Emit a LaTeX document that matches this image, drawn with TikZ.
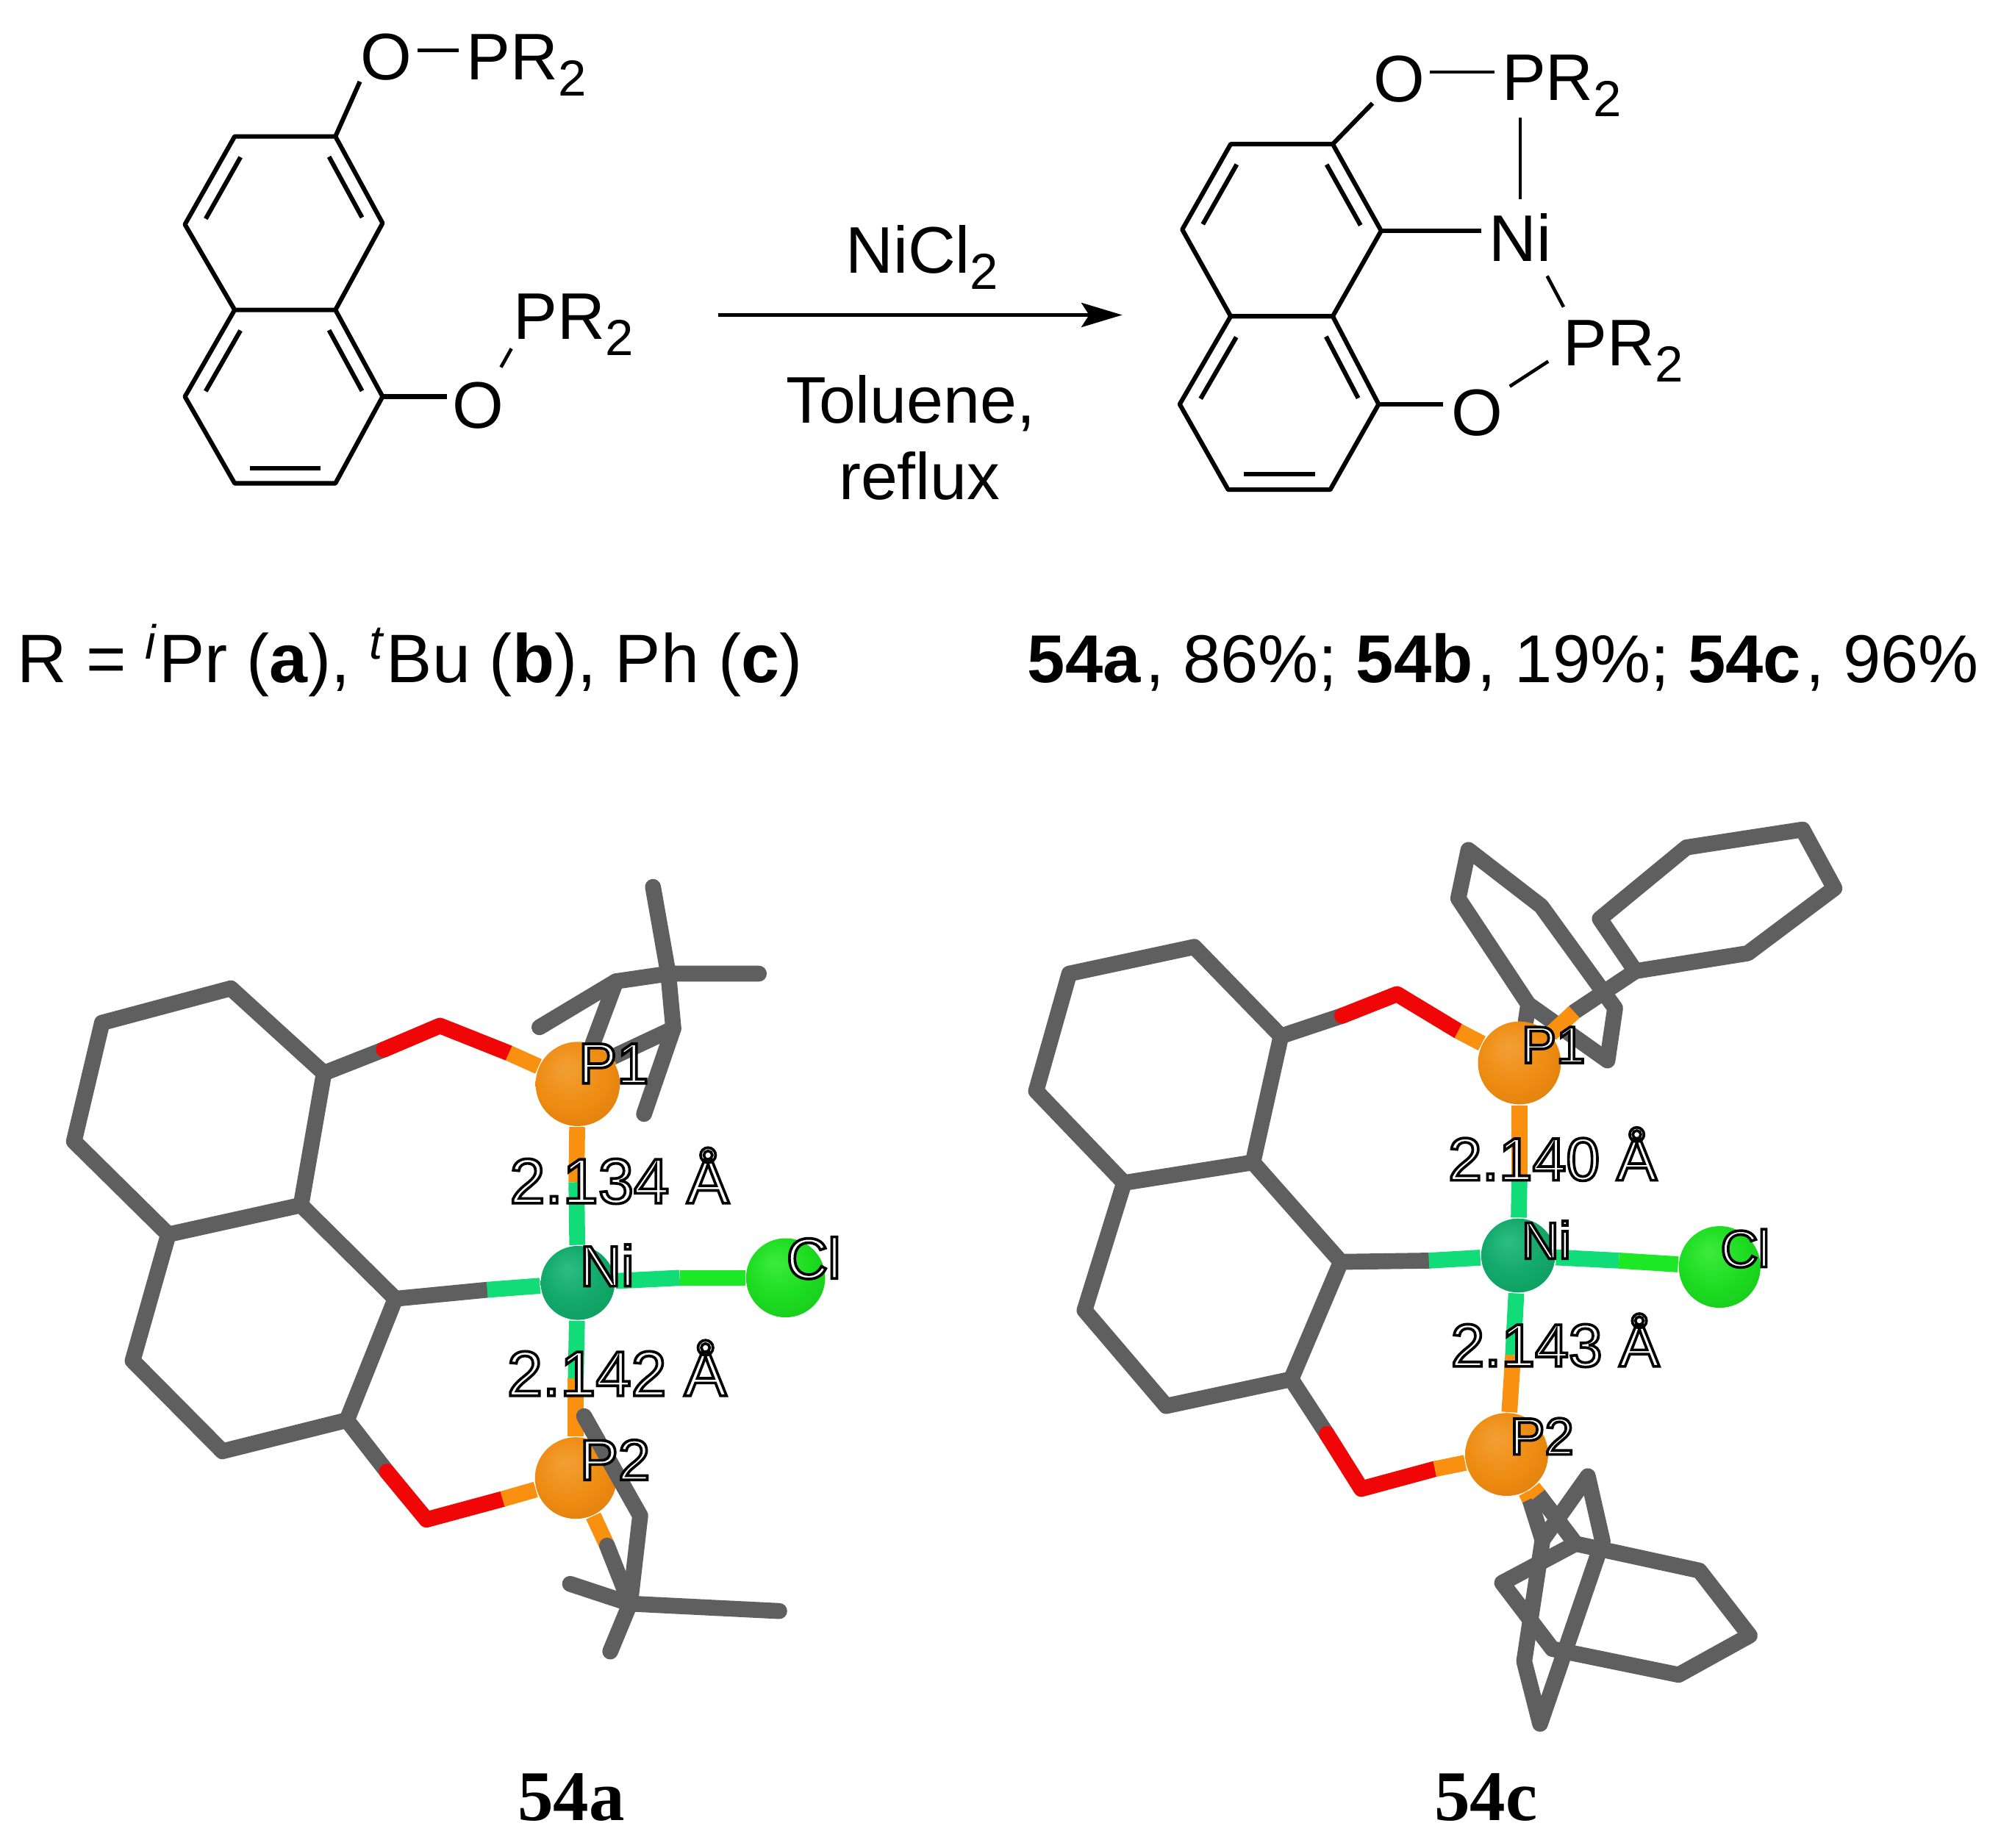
\documentclass[tikz,border=0pt]{standalone}
\usepackage{fontspec}
\setmainfont{Liberation Sans}
\newfontfamily\captionserif{Liberation Serif}
\usetikzlibrary{positioning,backgrounds,calc,arrows.meta}

\begin{document}
\begin{tikzpicture}[x=0.01cm,y=-0.01cm]
       \definecolor{stickgrey}{HTML}{5F5F5F}
       \definecolor{stickred}{HTML}{F00606}
       \definecolor{stickorange}{HTML}{F9900F}
       \definecolor{stickgreen}{HTML}{12DC78}
       \definecolor{stickbright}{HTML}{1CE826}
       \pgfdeclareradialshading{orangeshade}{\pgfpoint{-7bp}{10bp}}{rgb(0bp)=(.953,.624,.208); rgb(20bp)=(.933,.549,.071); rgb(38bp)=(.863,.486,.039); rgb(47bp)=(.71,.416,.055); rgb(50bp)=(.541,.314,.047)}
       \pgfdeclareradialshading{nickelshade}{\pgfpoint{-7bp}{10bp}}{rgb(0bp)=(.173,.741,.51); rgb(20bp)=(.071,.659,.416); rgb(38bp)=(.055,.604,.369); rgb(47bp)=(.047,.486,.298); rgb(50bp)=(.039,.416,.251)}
       \pgfdeclareradialshading{chlorineshade}{\pgfpoint{-7bp}{10bp}}{rgb(0bp)=(.235,.922,.235); rgb(20bp)=(.11,.863,.125); rgb(38bp)=(.094,.769,.11); rgb(47bp)=(.071,.604,.078); rgb(50bp)=(.055,.502,.063)}
       \newcommand{\lowertwo}{\raisebox{-3.6pt}{\fontsize{11.3}{11.3}\selectfont 2}}
       \newcommand{\outlined}[1]{\textcolor{white}{\special{pdf:code 0 0 0 RG 2 Tr 0.6 w}#1\special{pdf:code 0 Tr}}}
       \newcommand{\innerbond}[2]{\draw [bond] ($(#1)!0.15!(#2)!0.12cm!-90:(#2)$) -- ($(#2)!0.15!(#1)!0.12cm!90:(#1)$);}
       \tikzstyle{bond}     = [line width=1pt, line join=round]
       \tikzstyle{thinbond} = [line width=0.75pt]
       \tikzstyle{atomtext} = [inner sep=0pt, font=\fontsize{14.7}{17}\selectfont]
       \tikzstyle{grouptext}= [atomtext, anchor=base west]
       \tikzstyle{legend}   = [inner sep=0pt, anchor=base west, font=\fontsize{15.1}{18}\selectfont]
       \tikzstyle{stick}    = [line width=3.55pt, line cap=round, line join=round, color=stickgrey]
       \tikzstyle{redstick} = [stick, color=stickred]
       \tikzstyle{orastick} = [stick, color=stickorange, line cap=butt]
       \tikzstyle{grnstick} = [stick, color=stickgreen, line cap=butt]
       \tikzstyle{brtstick} = [stick, color=stickbright, line cap=butt]
       \tikzstyle{atomball} = [circle, inner sep=0pt]
       \tikzstyle{atomlabel}= [anchor=base west, inner sep=0pt, font=\fontsize{12.8}{15}\selectfont]
       \tikzstyle{distlabel}= [anchor=base west, inner sep=0pt, font=\fontsize{14.2}{17}\selectfont]
       \tikzstyle{codename} = [anchor=base, inner sep=0pt, font=\captionserif\bfseries\fontsize{15.9}{19}\selectfont]

       \useasboundingbox (0,0) rectangle (1569,1449);

       % starting material
       \coordinate (la) at (263,107);
       \coordinate (lb) at (184,107);
       \coordinate (lc) at (145,176);
       \coordinate (ld) at (184,243);
       \coordinate (le) at (263,243);
       \coordinate (lf) at (300,175);
       \coordinate (lg) at (145,311);
       \coordinate (lh) at (184,379);
       \coordinate (li) at (263,379);
       \coordinate (lj) at (300,311);
       \node [atomtext] (lOa) at (303,45) {O};
       \node [atomtext] (lOb) at (375,318) {O};
       \node [grouptext] (lPa) at (365,62.6) {PR\lowertwo};
       \node [grouptext] (lPb) at (402,266) {PR\lowertwo};
       \draw [bond] (la) -- (lb) -- (lc) -- (ld) -- (le) -- (lf) -- cycle;
       \draw [bond] (ld) -- (lg) -- (lh) -- (li) -- (lj) -- (le);
       \innerbond{lc}{lb}
       \innerbond{la}{lf}
       \innerbond{le}{lj}
       \innerbond{li}{lh}
       \innerbond{lg}{ld}
       \draw [bond] (la) -- (lOa.south west);
       \draw [thinbond, shorten <=1pt, shorten >=1.5pt] (lOa.15) -- (lOa.15 -| lPa.west);
       \draw [bond, shorten >=1.1pt] (lj) -- (lj -| lOb.west);
       \draw [thinbond] ([shift={(-3,-11)}]lOb.north east) -- ([shift={(-1,-6)}]lPb.south west);

       % reaction arrow
       \coordinate (arrowtail) at (563,247);
       \coordinate (arrowtip) at (880,247);
       \draw [line width=0.9pt, -{Stealth[length=0.32cm, width=0.19cm, inset=0.06cm]}] (arrowtail) -- (arrowtip);
       \node [atomtext, anchor=base] (metal) at (723,214) {NiCl\lowertwo};
       \node [atomtext, anchor=base] (solvent) at (714,331.6) {Toluene,};
       \node [atomtext, anchor=base] (reflux) at (721,391.5) {reflux};

       % pincer product
       \coordinate (ra) at (1045,113);
       \coordinate (rb) at (965,113);
       \coordinate (rc) at (927,180);
       \coordinate (rd) at (965,248);
       \coordinate (re) at (1045,248);
       \coordinate (rf) at (1083,181);
       \coordinate (rg) at (925,317);
       \coordinate (rh) at (963,384);
       \coordinate (ri) at (1043,384);
       \coordinate (rj) at (1081,317);
       \node [atomtext] (rOa) at (1097,62) {O};
       \node [atomtext] (rOb) at (1158,324) {O};
       \node [atomtext] (rNi) at (1192,186) {Ni};
       \node [grouptext] (rPa) at (1177,78.7) {PR\lowertwo};
       \node [grouptext] (rPb) at (1225,287) {PR\lowertwo};
       \draw [bond] (ra) -- (rb) -- (rc) -- (rd) -- (re) -- (rf) -- cycle;
       \draw [bond] (rd) -- (rg) -- (rh) -- (ri) -- (rj) -- (re);
       \innerbond{rc}{rb}
       \innerbond{ra}{rf}
       \innerbond{re}{rj}
       \innerbond{ri}{rh}
       \innerbond{rg}{rd}
       \draw [bond] (ra) -- (rOa.south west);
       \draw [thinbond, shorten <=1pt, shorten >=1.4pt] (rOa.15) -- (rOa.15 -| rPa.west);
       \draw [thinbond, shorten >=3pt] (rNi.north |- rPa.south) -- (rNi.north);
       \draw [bond, shorten >=1.6pt] (rf) -- (rf -| rNi.west);
       \draw [thinbond] ([shift={(-4,11)}]rNi.south east) -- ([shift={(1,-10)}]rPb.north west);
       \draw [bond, shorten >=1.7pt] (rj) -- (rj -| rOb.west);
       \draw [thinbond] ([shift={(5,-2)}]rOb.north east) -- ([shift={(-11,-17)}]rPb.south west);

       % legends
       \node [legend, font=\fontsize{15.3}{18}\selectfont] (rlegend) at (13,535) {R = \textsuperscript{\textit{i}}Pr (\textbf{a}), \textsuperscript{\textit{t}}Bu (\textbf{b}), Ph (\textbf{c})};
       \node [legend] (yields) at (805,535) {\textbf{54a}\kern1pt, 86\%; \textbf{54b}\kern1pt, 19\%; \textbf{54c}\kern1pt, 96\%};

       % crystal structure 54a
       \node [atomball, shading=orangeshade, minimum size=0.66cm] (aPa) at (453,850) {};
       \node [atomball, shading=orangeshade, minimum size=0.64cm] (aPb) at (451.5,1159) {};
       \node [atomball, shading=nickelshade, minimum size=0.58cm] (aNi) at (453,1006) {};
       \node [atomball, shading=chlorineshade, minimum size=0.62cm] (aCl) at (616,1002) {};
       \coordinate (aa) at (254,841.5);
       \coordinate (ab) at (181,775);
       \coordinate (ac) at (80,802);
       \coordinate (ad) at (58,895);
       \coordinate (ae) at (132,968);
       \coordinate (af) at (236,945);
       \coordinate (ag) at (104,1067);
       \coordinate (ah) at (174.4,1138);
       \coordinate (ai) at (272,1113.6);
       \coordinate (aj) at (310,1018.4);
       \coordinate (aOa) at (345,804.3);
       \coordinate (aOb) at (334.4,1191.6);
       \coordinate (aCa) at (483,769.5);
       \coordinate (aCb) at (524,763.5);
       \coordinate (aCc) at (528,806.5);
       \coordinate (aCd) at (512,695.5);
       \coordinate (aCe) at (595,763.5);
       \coordinate (aCf) at (423,805.5);
       \coordinate (aCg) at (505,873.5);
       \coordinate (aCh) at (458,1110.5);
       \coordinate (aCi) at (502,1188.5);
       \coordinate (aCj) at (494,1257.5);
       \coordinate (aCk) at (447,1242);
       \coordinate (aCl1) at (611,1263.3);
       \coordinate (aCm) at (478.5,1295);
       \coordinate (akOa) at (301,823);
       \coordinate (akOb) at (399,825.8);
       \coordinate (akOc) at (303.4,1154);
       \coordinate (akOd) at (394,1175.5);
       \coordinate (akC) at (382,1011.4);
       \coordinate (akPa) at (452,927);
       \coordinate (akPb) at (451.5,1081);
       \coordinate (akCl) at (533,1002);
       \coordinate (akP) at (476,1212);
       \coordinate (akQ) at (478,830);
       \begin{scope}[on background layer]
         \draw [stick] (aCf) -- (aCa) -- (aCb) -- (aCc) -- (aCg);
         \draw [stick] (aCd) -- (aCb) -- (aCe);
         \draw [stick] (aCa) -- (aPa);
         \draw [stick] (aCc) -- (akQ);
         \draw [orastick] (akQ) -- (aPa);
         \draw [stick] (aa) -- (ab) -- (ac) -- (ad) -- (ae) -- (af) -- cycle;
         \draw [stick] (ae) -- (ag) -- (ah) -- (ai) -- (aj) -- (af);
         \draw [stick] (aa) -- (akOa);
         \draw [stick] (ai) -- (akOc);
         \draw [stick] (aj) -- (akC);
         \draw [redstick] (akOa) -- (aOa) -- (akOb);
         \draw [redstick] (akOc) -- (aOb) -- (akOd);
         \draw [orastick] (akOb) -- (aPa);
         \draw [orastick] (akOd) -- (aPb);
         \draw [orastick] (aPa) -- (akPa);
         \draw [orastick] (aPb) -- (akPb);
         \draw [orastick] (aPb) -- (akP);
         \draw [grnstick] (akPa) -- (aNi);
         \draw [grnstick] (akPb) -- (aNi);
         \draw [grnstick] (akC) -- (aNi);
         \draw [grnstick] (aNi) -- (akCl);
         \draw [brtstick] (akCl) -- (aCl);
       \end{scope}
       \draw [stick] (aCh) -- (aCi) -- (aCj) -- (aCm);
       \draw [stick] (akP) -- (aCj);
       \draw [stick] (aCk) -- (aCj) -- (aCl1);
       \node [atomlabel] (aLa) at (453,849.5) {\outlined{P1}};
       \node [atomlabel] (aLb) at (454,1160.5) {\outlined{P2}};
       \node [atomlabel] (aLc) at (454,1008.5) {\outlined{Ni}};
       \node [atomlabel] (aLd) at (616,1002.5) {\outlined{Cl}};
       \node [distlabel] (aDa) at (399,943.5) {\outlined{2.134 Å}};
       \node [distlabel] (aDb) at (397,1094.5) {\outlined{2.142 Å}};
       \node [codename] (aName) at (448,1427.5) {54a};

       % crystal structure 54c
       \begin{scope}[shift={(4.4,3.5)}]
       \node [atomball, shading=orangeshade, minimum size=0.65cm] (cPa) at (1187,830) {};
       \node [atomball, shading=orangeshade, minimum size=0.65cm] (cPb) at (1177,1137) {};
       \node [atomball, shading=nickelshade, minimum size=0.58cm] (cNi) at (1186,981) {};
       \node [atomball, shading=chlorineshade, minimum size=0.64cm] (cCl) at (1344,990) {};
       \coordinate (ca) at (1000,809);
       \coordinate (cb) at (932,739);
       \coordinate (cc) at (834,760);
       \coordinate (cd) at (808,852);
       \coordinate (ce) at (877,924);
       \coordinate (cf) at (978,908);
       \coordinate (cg) at (846,1024);
       \coordinate (ch) at (910,1099);
       \coordinate (ci) at (1008,1078);
       \coordinate (cj) at (1047,986);
       \coordinate (cOa) at (1091,776);
       \coordinate (cOb) at (1063,1164);
       \coordinate (ckOa) at (1048,793);
       \coordinate (ckOb) at (1139,805);
       \coordinate (ckOc) at (1036,1121);
       \coordinate (ckOd) at (1120.6,1148.4);
       \coordinate (ckC) at (1116,985);
       \coordinate (ckPa) at (1187,919);
       \coordinate (ckPb) at (1182,1059);
       \coordinate (ckCl) at (1265,985);
       \coordinate (ckRa) at (1230,790);
       \coordinate (ckRb) at (1202,1168.5);
       \coordinate (ckRc) at (1195,1172);
       % phenyl rings on P1
       \coordinate (cAa) at (1278,758);
       \coordinate (cAb) at (1366,744);
       \coordinate (cAc) at (1434,693);
       \coordinate (cAd) at (1409,647);
       \coordinate (cAe) at (1318,661);
       \coordinate (cAf) at (1250,717);
       \coordinate (cBa) at (1194,784);
       \coordinate (cBb) at (1139,701);
       \coordinate (cBc) at (1147,663);
       \coordinate (cBd) at (1204,707);
       \coordinate (cBe) at (1262,787);
       \coordinate (cBf) at (1256,828);
       % phenyl rings on P2
       \coordinate (cCa) at (1231.1,1207);
       \coordinate (cCb) at (1328.1,1228.1);
       \coordinate (cCc) at (1367.5,1279);
       \coordinate (cCd) at (1311.8,1309.8);
       \coordinate (cCe) at (1212.8,1289.5);
       \coordinate (cCf) at (1173.4,1237.7);
       \coordinate (cDb) at (1240.6,1154.1);
       \coordinate (cDc) at (1252.2,1205);
       \coordinate (cDd) at (1203.2,1348.2);
       \coordinate (cDe) at (1190.7,1299.2);
       \coordinate (cDf) at (1205.1,1204.1);
       \begin{scope}[on background layer]
         \draw [stick] (cBa) -- (cBb) -- (cBc) -- (cBd) -- (cBe) -- (cBf) -- cycle;
         \draw [stick] (cAa) -- (cAb) -- (cAc) -- (cAd) -- (cAe) -- (cAf) -- cycle;
         \draw [stick] (cBa) -- (cPa);
         \draw [stick] (ckRa) -- (cAa);
         \draw [stick] (ca) -- (cb) -- (cc) -- (cd) -- (ce) -- (cf) -- cycle;
         \draw [stick] (ce) -- (cg) -- (ch) -- (ci) -- (cj) -- (cf);
         \draw [stick] (ca) -- (ckOa);
         \draw [stick] (ci) -- (ckOc);
         \draw [stick] (cj) -- (ckC);
         \draw [redstick] (ckOa) -- (cOa) -- (ckOb);
         \draw [redstick] (ckOc) -- (cOb) -- (ckOd);
         \draw [orastick] (ckOb) -- (cPa);
         \draw [orastick] (ckOd) -- (cPb);
         \draw [orastick] (cPa) -- (ckPa);
         \draw [orastick] (cPb) -- (ckPb);
         \draw [orastick] (cPa) -- (ckRa);
         \draw [grnstick] (ckPa) -- (cNi);
         \draw [grnstick] (ckPb) -- (cNi);
         \draw [grnstick] (ckC) -- (cNi);
         \draw [grnstick] (cNi) -- (ckCl);
         \draw [brtstick] (ckCl) -- (cCl);
         \draw [stick] (cDf) -- (cDb) -- (cDc) -- (cDd) -- (cDe) -- cycle;
         \draw [stick] (ckRc) -- (cDf);
         \draw [orastick] (cPb) -- (ckRc);
         \draw [stick] (ckRb) -- (cCa);
         \draw [stick] (cCa) -- (cCb) -- (cCc) -- (cCd) -- (cCe) -- (cCf) -- cycle;
         \draw [orastick] (cPb) -- (ckRb);
       \end{scope}
       \node [atomlabel, font=\fontsize{11.6}{14}\selectfont] (cLa) at (1188,830) {\outlined{P1}};
       \node [atomlabel, font=\fontsize{11.6}{14}\selectfont] (cLb) at (1179,1137) {\outlined{P2}};
       \node [atomlabel, font=\fontsize{11.6}{14}\selectfont] (cLc) at (1188,983.5) {\outlined{Ni}};
       \node [atomlabel, font=\fontsize{11.6}{14}\selectfont] (cLd) at (1344,990) {\outlined{Cl}};
       \node [distlabel, font=\fontsize{13.5}{16}\selectfont] (cDista) at (1130.5,922) {\outlined{2.140 Å}};
       \node [distlabel, font=\fontsize{13.5}{16}\selectfont] (cDistb) at (1132.5,1068) {\outlined{2.143 Å}};
       \end{scope}
       \node [codename] (cName) at (1165,1427.5) {54c};
\end{tikzpicture}
\end{document}
